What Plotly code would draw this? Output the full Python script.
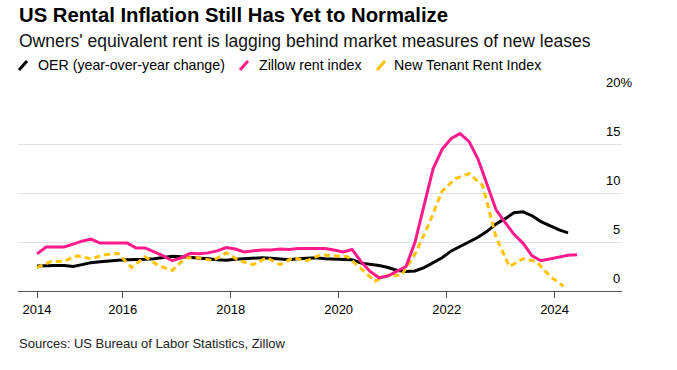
import pandas as pd
import plotly.graph_objects as go

# ---- data ----
bimonthly_dates = pd.date_range("2014-06-01", periods=61, freq="2MS").strftime("%Y-%m-%d").tolist()
quarterly_dates = pd.date_range("2014-06-01", periods=40, freq="3MS").strftime("%Y-%m-%d").tolist()

oer = [2.55, 2.6, 2.6, 2.6, 2.5, 2.7, 2.9, 3.0, 3.1, 3.15,
       3.2, 3.2, 3.25, 3.3, 3.4, 3.55, 3.5, 3.45, 3.35, 3.3,
       3.2, 3.15, 3.25, 3.3, 3.4, 3.4, 3.35, 3.25, 3.2, 3.3,
       3.35, 3.4, 3.3, 3.25, 3.25, 3.2, 2.85, 2.75, 2.6, 2.4,
       2.1, 2.0, 2.05, 2.4, 2.9, 3.4, 4.1, 4.55, 5.0, 5.5,
       6.1, 6.85, 7.4, 8.0, 8.1, 7.7, 7.1, 6.7, 6.25, 5.95]

zillow = [3.8, 4.5, 4.5, 4.5, 4.8, 5.1, 5.3, 4.9, 4.9, 4.9,
          4.9, 4.4, 4.4, 4.0, 3.6, 3.1, 3.4, 3.85, 3.8, 3.9,
          4.1, 4.45, 4.3, 4.0, 4.1, 4.2, 4.2, 4.3, 4.25, 4.35,
          4.35, 4.35, 4.35, 4.2, 4.0, 4.25, 3.0, 2.0, 1.35, 1.55,
          2.0, 2.5, 5.0, 8.8, 12.5, 14.5, 15.6, 16.1, 15.3, 13.5,
          10.8, 8.3, 7.0, 5.8, 4.9, 3.6, 3.1, 3.3, 3.5, 3.65, 3.7]

ntri = [2.4, 3.0, 3.06, 3.6, 3.3, 3.7, 3.85, 2.4, 3.5, 2.6,
        2.1, 3.4, 3.4, 3.1, 3.9, 3.1, 2.7, 3.4, 2.7, 3.4,
        3.1, 3.7, 3.6, 3.5, 2.3, 1.0, 1.6, 1.6, 3.8, 6.8,
        10.2, 11.5, 12.0, 10.8, 5.5, 2.5, 3.3, 3.0, 1.5, 0.5]

series_names = ["OER (year-over-year change)", "Zillow rent index", "New Tenant Rent Index"]
x_tick_dates = ["2014-06-01", "2016-01-01", "2018-01-01", "2020-01-01", "2022-01-01", "2024-01-01"]
x_tick_labels = ["2014", "2016", "2018", "2020", "2022", "2024"]
y_tick_vals = [0, 5, 10, 15, 20]
y_tick_labels = ["0", "5", "10", "15", "20%"]

# ---- style ----
FONT = "Liberation Sans, Arial, sans-serif"
C_OER = "#000000"
C_ZIL = "#ff1a8c"
C_NTR = "#ffc200"

fig = go.Figure()
fig.add_trace(go.Scatter(x=bimonthly_dates[:len(oer)], y=oer, mode="lines",
                         line=dict(color=C_OER, width=3), name=series_names[0]))
fig.add_trace(go.Scatter(x=quarterly_dates, y=ntri, mode="lines",
                         line=dict(color=C_NTR, width=3, dash="6px,4px"), name=series_names[2]))
fig.add_trace(go.Scatter(x=bimonthly_dates[:len(zillow)], y=zillow, mode="lines",
                         line=dict(color=C_ZIL, width=3), name=series_names[1]))

W, H = 677, 370
L, R, T, B = 18, W - 622, 95, H - 291
pw, ph = W - L - R, H - T - B

def px(xp):
    return (xp - L) / pw

def py(yp):
    return (H - B - yp) / ph

annotations = [
    dict(text="<b>US Rental Inflation Still Has Yet to Normalize</b>", x=px(17), y=py(15),
         font=dict(size=20.3, color="#000")),
    dict(text="Owners' equivalent rent is lagging behind market measures of new leases",
         x=px(17), y=py(41), font=dict(size=17.5, color="#111")),
    dict(text="Sources: US Bureau of Labor Statistics, Zillow", x=px(17), y=py(343),
         font=dict(size=13, color="#222")),
]
for a in annotations:
    a.update(xref="paper", yref="paper", xanchor="left", yanchor="middle", showarrow=False)
    a["font"]["family"] = FONT

# legend (manual, slash icons)
legend_items = [(series_names[0], C_OER, 19, 35.5), (series_names[1], C_ZIL, 240, 257),
                (series_names[2], C_NTR, 377, 392)]
shapes = []
for name, col, ix, tx in legend_items:
    shapes.append(dict(type="line", xref="paper", yref="paper",
                       x0=px(ix), y0=py(70), x1=px(ix + 8), y1=py(61),
                       line=dict(color=col, width=3)))
    annotations.append(dict(text=name, xref="paper", yref="paper", x=px(tx), y=py(65),
                            xanchor="left", yanchor="middle", showarrow=False,
                            font=dict(size=14.2, family=FONT, color="#000")))

# y labels above gridlines, right aligned (the % sign hangs past the edge)
for v, t in zip(y_tick_vals, y_tick_labels):
    annotations.append(dict(text=t, xref="paper", yref="y", x=1, y=v, xanchor="right",
                            yanchor="bottom", yshift=3, xshift=12 if t.endswith("%") else 0,
                            showarrow=False, font=dict(size=13, family=FONT, color="#000")))

fig.update_layout(
    width=W, height=H, margin=dict(l=L, r=R, t=T, b=B),
    paper_bgcolor="white", plot_bgcolor="white",
    showlegend=False, annotations=annotations, shapes=shapes,
    xaxis=dict(type="date", range=["2014-01-23", "2025-04-01"],
               tickvals=x_tick_dates, ticktext=x_tick_labels,
               showgrid=False, showline=True, linecolor="#555", linewidth=1,
               ticks="outside", ticklen=6, tickcolor="#555", tickwidth=1,
               tickfont=dict(size=13, family=FONT, color="#000")),
    yaxis=dict(range=[0, 20.05], tickvals=y_tick_vals, showticklabels=False,
               showgrid=True, gridcolor="#e2e2e2", gridwidth=1, zeroline=False),
)

fig.write_html("out.html", config={"displayModeBar": False},
               post_script="document.body.style.margin='0';")
